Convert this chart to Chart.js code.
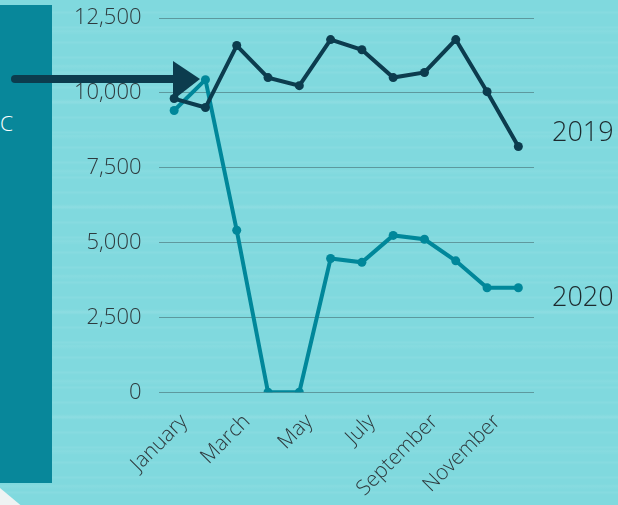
<!DOCTYPE html>
<html>
<head>
<meta charset="utf-8">
<script src="https://cdn.jsdelivr.net/npm/chart.js@4/dist/chart.umd.min.js"></script>
<style>
  html, body { margin: 0; padding: 0; }
  body {
    width: 618px; height: 505px; overflow: hidden; position: relative;
    background-color: #80d9de;
    background-image:
      repeating-linear-gradient(to bottom, rgba(255,255,255,0) 0px, rgba(255,255,255,0) 11px, rgba(255,255,255,0.07) 12px, rgba(255,255,255,0) 15px),
      repeating-linear-gradient(to bottom, rgba(255,255,255,0) 0px, rgba(255,255,255,0) 29px, rgba(255,255,255,0.06) 31px, rgba(255,255,255,0) 35px);
    font-family: "Open Sans", sans-serif;
  }
  #bar {
    position: absolute; left: 0; top: 5px; width: 52px; height: 478px;
    background: #08879a;
  }
  #bar span {
    position: absolute; left: 0; top: 104px; color: #fff;
    font-size: 21px; font-weight: 300;
  }
  #corner {
    position: absolute; left: -20px; top: 494px; width: 40px; height: 40px;
    background: #eef3f3; transform: rotate(40deg);
  }
  canvas { position: absolute; left: 0; top: 0; }
  .year {
    position: absolute; left: 552px; font-size: 27px; font-weight: 300;
    color: #1d2a2e; line-height: 1;
  }
  #arrow { position: absolute; left: 0; top: 0; }
</style>
</head>
<body>
<div id="bar"><span>C</span></div>
<div id="corner"></div>
<canvas id="myChart" width="618" height="505"></canvas>
<div class="year" style="top:117px">2019</div>
<div class="year" style="top:282px">2020</div>
<svg id="arrow" width="618" height="505">
  <line x1="15" y1="79" x2="180" y2="79" stroke="#0c3c4e" stroke-width="8" stroke-linecap="round"/>
  <polygon points="173,61 173,100 200,79" fill="#0c3c4e"/>
</svg>
<script>
const meses = ["January", "February", "March", "April", "May", "June",
    "July", "August", "September", "October", "November", "December"];
const valores2019 = [9810, 9510, 11580, 10510, 10240, 11780, 11440, 10510, 10680, 11780, 10040, 8210];
const valores2020 = [9410, 10440, 5410, 0, 0, 4470, 4340, 5240, 5110, 4390, 3490, 3490];
const ticksY = [0, 2500, 5000, 7500, 10000, 12500];

const corEscura = "#0c3c4e";
const corTeal = "#00879a";

new Chart("myChart", {
    type: "line",
    data: {
        labels: meses,
        datasets: [{
            label: "2019",
            data: valores2019,
            borderColor: corEscura,
            backgroundColor: corEscura,
            borderWidth: 4,
            pointRadius: 4.5,
            pointBorderWidth: 0,
            tension: 0
        }, {
            label: "2020",
            data: valores2020,
            borderColor: corTeal,
            backgroundColor: corTeal,
            borderWidth: 4,
            pointRadius: 4.5,
            pointBorderWidth: 0,
            tension: 0
        }]
    },
    options: {
        responsive: false,
        animation: false,
        layout: {padding: {top: 18, right: 84, left: 0, bottom: 0}},
        plugins: {
            legend: {display: false},
            tooltip: {enabled: false}
        },
        scales: {
            y: {
                min: ticksY[0],
                max: ticksY[ticksY.length - 1],
                afterBuildTicks: scale => {
                    scale.ticks = ticksY.map(v => ({value: v}));
                },
                afterFit: scale => {
                    scale.width = 158.5;
                    scale.paddingTop = 0;
                    scale.paddingBottom = 0;
                },
                grid: {color: "rgba(70,110,115,0.6)", lineWidth: 1, drawTicks: false},
                border: {display: false},
                ticks: {
                    color: "#2e3a3e",
                    font: {family: "'Open Sans', sans-serif", size: 22, weight: 300},
                    padding: 17
                }
            },
            x: {
                offset: true,
                afterFit: scale => {
                    scale.height = 112.7;
                    scale.paddingLeft = 0;
                    scale.paddingRight = 0;
                },
                grid: {display: false},
                border: {display: false},
                ticks: {
                    color: "#2e3a3e",
                    font: {family: "'Open Sans', sans-serif", size: 21, weight: 300},
                    autoSkip: false,
                    minRotation: 45,
                    maxRotation: 45,
                    padding: 9,
                    labelOffset: 10,
                    callback: function(val, index) {
                        return index % 2 === 0 ? this.getLabelForValue(val) : "";
                    }
                }
            }
        }
    }
});
</script>
</body>
</html>
